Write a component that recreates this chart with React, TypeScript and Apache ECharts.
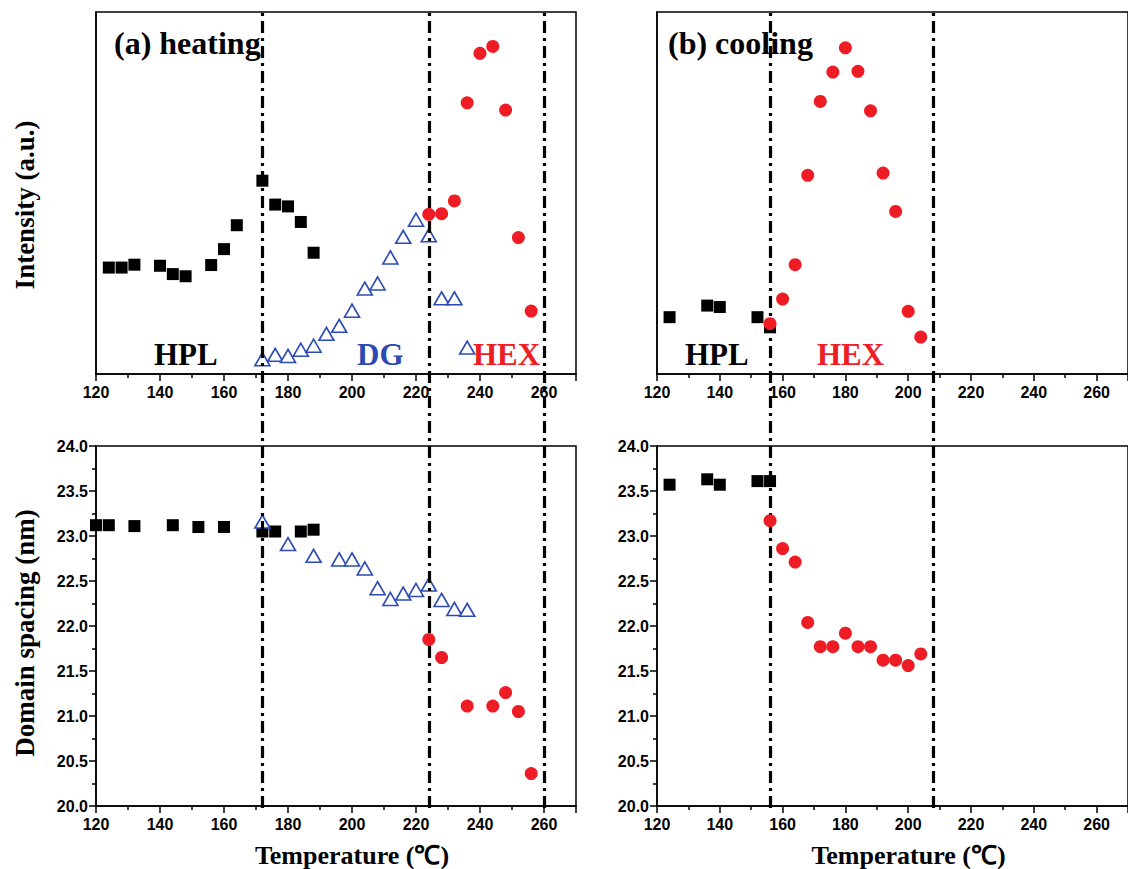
import React, { useEffect, useRef } from "react";
import * as echarts from "echarts";

// ---- data (temperatures in °C) ----
const heatIntHPL_T = [124, 128, 132, 140, 144, 148, 156, 160, 164, 172, 176, 180, 184, 188];
const heatIntHPL = [29.4, 29.4, 30.2, 29.9, 27.6, 27.0, 30.1, 34.5, 41.1, 53.4, 46.8, 46.3, 42.0, 33.5];
const heatIntDG_T = [172, 176, 180, 184, 188, 192, 196, 200, 204, 208, 212, 216, 220, 224, 228, 232, 236];
const heatIntDG = [4.1, 5.3, 5.0, 6.7, 7.8, 11.1, 13.3, 17.5, 23.6, 25.0, 32.2, 37.9, 42.6, 38.3, 20.9, 20.9, 7.3];
const heatIntHEX_T = [224, 228, 232, 236, 240, 244, 248, 252, 256];
const heatIntHEX = [44.1, 44.3, 47.8, 74.9, 88.6, 90.5, 72.9, 37.7, 17.4];

const heatDsHPL_T = [120, 124, 132, 144, 152, 160, 172, 176, 184, 188];
const heatDsHPL = [23.12, 23.12, 23.11, 23.12, 23.1, 23.1, 23.05, 23.05, 23.05, 23.07];
const heatDsDG_T = [172, 180, 188, 196, 200, 204, 208, 212, 216, 220, 224, 228, 232, 236];
const heatDsDG = [23.16, 22.91, 22.78, 22.74, 22.74, 22.64, 22.42, 22.3, 22.36, 22.4, 22.46, 22.29, 22.19, 22.18];
const heatDsHEX_T = [224, 228, 236, 244, 248, 252, 256];
const heatDsHEX = [21.85, 21.65, 21.11, 21.11, 21.26, 21.05, 20.36];

const coolIntHPL_T = [124, 136, 140, 152, 156];
const coolIntHPL = [15.7, 18.9, 18.5, 15.7, 12.9];
const coolIntHEX_T = [156, 160, 164, 168, 172, 176, 180, 184, 188, 192, 196, 200, 204];
const coolIntHEX = [13.9, 20.7, 30.2, 54.9, 75.3, 83.4, 90.1, 83.6, 72.7, 55.5, 44.9, 17.3, 10.2];

const coolDsHPL_T = [124, 136, 140, 152, 156];
const coolDsHPL = [23.57, 23.63, 23.57, 23.61, 23.61];
const coolDsHEX_T = [156, 160, 164, 168, 172, 176, 180, 184, 188, 192, 196, 200, 204];
const coolDsHEX = [23.17, 22.86, 22.71, 22.04, 21.77, 21.77, 21.92, 21.77, 21.77, 21.62, 21.62, 21.56, 21.69];

const heatBoundaries = [172, 224, 260];
const coolBoundaries = [156, 208];

const X_MIN = 120;
const X_MAX = 270;
const DS_MIN = 20;
const DS_MAX = 24;

const BLACK = "#000000";
const BLUE = "#2B4BB3";
const RED = "#EE1C24";
const SERIF = "'Liberation Serif', 'Times New Roman', serif";
const SANS = "'Liberation Sans', Arial, sans-serif";

const zip = (xs: number[], ys: number[]) => xs.map((x, i) => [x, ys[i]]);

export default function App() {
  const ref = useRef<HTMLDivElement>(null);

  useEffect(() => {
    document.body.style.margin = "0";
    if (!ref.current) return;
    const chart = echarts.init(ref.current, undefined, { renderer: "svg" });

    const L = { left: 96, width: 480 };
    const R = { left: 657, width: 477 };
    const TOP = { top: 12, height: 362 };
    const BOT = { top: 446, height: 362 };

    const gridStyle = { show: true, borderColor: BLACK, borderWidth: 1.5, backgroundColor: "transparent" };

    const xAxisBase = (gridIndex: number, name = "") => ({
      type: "value",
      gridIndex,
      min: X_MIN,
      max: X_MAX,
      interval: 20,
      name,
      nameLocation: "middle",
      nameGap: 36,
      nameTextStyle: {
        fontFamily: SERIF,
        fontWeight: "bold",
        fontSize: 26,
        color: BLACK,
        padding: [0, 0, 0, 32],
      },
      axisLine: { show: true, lineStyle: { color: BLACK, width: 1.5 } },
      axisTick: { show: true, inside: false, length: 7, lineStyle: { color: BLACK, width: 1.5 } },
      minorTick: { show: true, splitNumber: 2, length: 4, lineStyle: { color: BLACK, width: 1.5 } },
      splitLine: { show: false },
      axisLabel: {
        show: true,
        showMaxLabel: false,
        margin: 10,
        fontFamily: SANS,
        fontWeight: "bold",
        fontSize: 16,
        color: BLACK,
      },
    });

    const yIntensity = (gridIndex: number, name = "") => ({
      type: "value",
      gridIndex,
      min: 0,
      max: 100,
      name,
      nameLocation: "middle",
      nameGap: 58,
      nameTextStyle: {
        fontFamily: SERIF,
        fontWeight: "bold",
        fontSize: 27,
        color: BLACK,
        padding: [0, 24, 0, 0],
      },
      axisLine: { show: true, lineStyle: { color: BLACK, width: 1.5 } },
      axisTick: { show: false },
      axisLabel: { show: false },
      splitLine: { show: false },
    });

    const ySpacing = (gridIndex: number, name = "") => ({
      type: "value",
      gridIndex,
      min: DS_MIN,
      max: DS_MAX,
      interval: 0.5,
      name,
      nameLocation: "middle",
      nameGap: 58,
      nameTextStyle: {
        fontFamily: SERIF,
        fontWeight: "bold",
        fontSize: 27,
        color: BLACK,
        padding: [0, 14, 0, 0],
      },
      axisLine: { show: true, lineStyle: { color: BLACK, width: 1.5 } },
      axisTick: { show: true, inside: false, length: 7, lineStyle: { color: BLACK, width: 1.5 } },
      minorTick: { show: true, splitNumber: 2, length: 4, lineStyle: { color: BLACK, width: 1.5 } },
      splitLine: { show: false },
      axisLabel: {
        show: true,
        margin: 8,
        fontFamily: SANS,
        fontWeight: "bold",
        fontSize: 16,
        color: BLACK,
        formatter: (v: number) => v.toFixed(1),
      },
    });

    const hiddenX = (gridIndex: number) => ({ type: "value", gridIndex, min: X_MIN, max: X_MAX, show: false });
    const hiddenY = (gridIndex: number) => ({ type: "value", gridIndex, min: 0, max: 1, show: false });

    const square = (xi: number, data: number[][], name: string) => ({
      type: "scatter",
      name,
      xAxisIndex: xi,
      yAxisIndex: xi,
      data,
      symbol: "rect",
      symbolSize: 12,
      itemStyle: { color: BLACK, opacity: 1 },
      z: 3,
    });
    const triangle = (xi: number, data: number[][], name: string) => ({
      type: "scatter",
      name,
      xAxisIndex: xi,
      yAxisIndex: xi,
      data,
      symbol: "triangle",
      symbolSize: [15, 13],
      itemStyle: { color: "#ffffff", borderColor: BLUE, borderWidth: 1.6, opacity: 1 },
      z: 4,
    });
    const circle = (xi: number, data: number[][], name: string) => ({
      type: "scatter",
      name,
      xAxisIndex: xi,
      yAxisIndex: xi,
      data,
      symbol: "circle",
      symbolSize: 13,
      itemStyle: { color: RED, opacity: 1 },
      z: 5,
    });
    const boundaryLines = (xi: number, xs: number[]) => ({
      type: "scatter",
      name: "boundaries",
      xAxisIndex: xi,
      yAxisIndex: xi,
      data: [[X_MIN, 0]],
      symbolSize: 0,
      silent: true,
      z: 2,
      markLine: {
        silent: true,
        symbol: "none",
        label: { show: false },
        lineStyle: { color: BLACK, width: 3.2, type: [12, 5, 3, 5], opacity: 1 },
        data: xs.map((x) => ({ xAxis: x })),
      },
    });

    const txt = (text: string, x: number, y: number, color: string, size: number) => ({
      type: "text",
      left: x,
      top: y,
      style: { text, fill: color, font: `bold ${size}px ${SERIF}` },
      z: 10,
    });

    chart.setOption({
      animation: false,
      backgroundColor: "#ffffff",
      grid: [
        { ...L, ...TOP, ...gridStyle },
        { ...L, ...BOT, ...gridStyle },
        { ...R, ...TOP, ...gridStyle },
        { ...R, ...BOT, ...gridStyle },
        { ...L, top: 12, height: 796, show: false },
        { ...R, top: 12, height: 796, show: false },
      ],
      xAxis: [
        xAxisBase(0),
        xAxisBase(1, "Temperature (℃)"),
        xAxisBase(2),
        xAxisBase(3, "Temperature (℃)"),
        hiddenX(4),
        hiddenX(5),
      ],
      yAxis: [
        yIntensity(0, "Intensity (a.u.)"),
        ySpacing(1, "Domain spacing (nm)"),
        yIntensity(2),
        ySpacing(3),
        hiddenY(4),
        hiddenY(5),
      ],
      series: [
        boundaryLines(4, heatBoundaries),
        boundaryLines(5, coolBoundaries),
        square(0, zip(heatIntHPL_T, heatIntHPL), "HPL"),
        triangle(0, zip(heatIntDG_T, heatIntDG), "DG"),
        circle(0, zip(heatIntHEX_T, heatIntHEX), "HEX"),
        square(1, zip(heatDsHPL_T, heatDsHPL), "HPL"),
        triangle(1, zip(heatDsDG_T, heatDsDG), "DG"),
        circle(1, zip(heatDsHEX_T, heatDsHEX), "HEX"),
        square(2, zip(coolIntHPL_T, coolIntHPL), "HPL"),
        circle(2, zip(coolIntHEX_T, coolIntHEX), "HEX"),
        square(3, zip(coolDsHPL_T, coolDsHPL), "HPL"),
        circle(3, zip(coolDsHEX_T, coolDsHEX), "HEX"),
      ],
      graphic: [
        txt("(a) heating", 114, 27, BLACK, 32),
        txt("HPL", 154, 339, BLACK, 31),
        txt("DG", 357, 339, BLUE, 31),
        txt("HEX", 473, 339, RED, 31),
        txt("(b) cooling", 668, 27, BLACK, 32),
        txt("HPL", 685, 339, BLACK, 31),
        txt("HEX", 817, 339, RED, 31),
      ],
    });

    return () => chart.dispose();
  }, []);

  return <div ref={ref} style={{ width: 1128, height: 869 }} />;
}
